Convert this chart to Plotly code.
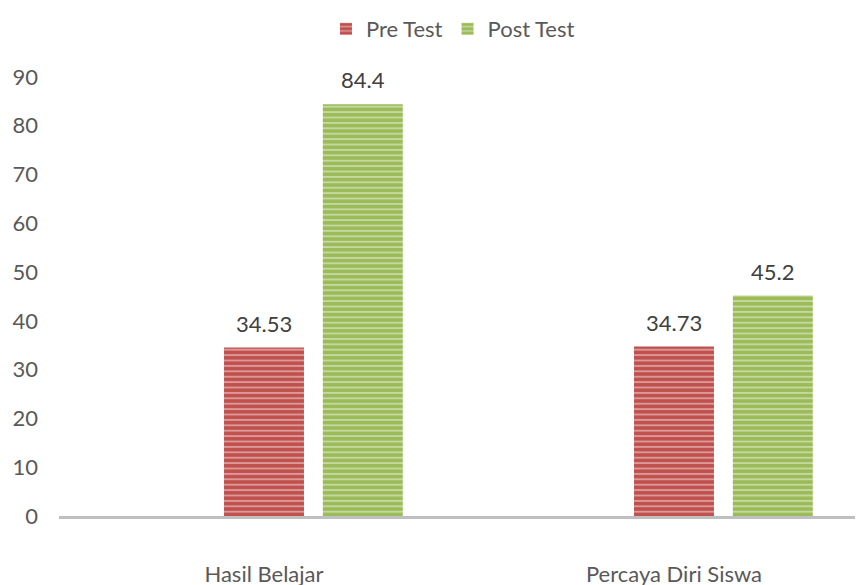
import plotly.graph_objects as go

categories = ["Hasil Belajar", "Percaya Diri Siswa"]
pre_test = [34.53, 34.73]
post_test = [84.4, 45.2]
y_ticks = [0, 10, 20, 30, 40, 50, 60, 70, 80, 90]

RED = "#c0504d"
GREEN = "#9bbb59"
FONT = "Lato"
TXT = "#595959"
FS = 22

x_idx = list(range(len(categories)))
bar_w = 0.195
gap = 0.046

fig = go.Figure()
fig.add_trace(go.Bar(
    name="Pre Test", x=x_idx, y=pre_test, width=bar_w, offset=-bar_w / 2,
    marker=dict(color=RED, line=dict(width=0),
                pattern=dict(shape="-", fgcolor="rgba(255,255,255,0.85)", bgcolor=RED,
                             size=5.4, solidity=0.35, fillmode="overlay")),
))
fig.add_trace(go.Bar(
    name="Post Test", x=x_idx, y=post_test, width=bar_w, offset=bar_w / 2 + gap,
    marker=dict(color=GREEN, line=dict(width=0),
                pattern=dict(shape="-", fgcolor="rgba(255,255,255,0.85)", bgcolor=GREEN,
                             size=5.4, solidity=0.35, fillmode="overlay")),
))

for vals, off in ((pre_test, 0.0), (post_test, bar_w + gap)):
    for i, v in enumerate(vals):
        fig.add_annotation(x=i + off, y=v, text=f"{v:g}", showarrow=False,
                           yanchor="bottom", yshift=9,
                           font=dict(family=FONT, size=FS, color="#404040"))

fig.update_layout(
    width=855, height=577,
    margin=dict(l=51, r=0, t=69, b=69, autoexpand=False),
    paper_bgcolor="white", plot_bgcolor="white",
    barmode="overlay",
    showlegend=True,
    legend=dict(orientation="h", x=0.49, xanchor="center", y=1.0, yanchor="top",
                yref="container", font=dict(family=FONT, size=FS, color=TXT),
                traceorder="normal", itemwidth=30),
    font=dict(family=FONT, size=FS, color=TXT),
)
fig.update_xaxes(
    tickmode="array", tickvals=x_idx, ticktext=categories, automargin=False,
    range=[-0.5, 1.461], showline=True, linecolor="#bfbfbf", linewidth=3,
    ticks="", showgrid=False, zeroline=False, ticklabelstandoff=37,
    tickfont=dict(family=FONT, size=FS, color=TXT),
)
fig.update_yaxes(
    range=[0, 90], tickvals=y_ticks, showgrid=False, zeroline=False, showline=False,
    automargin=False, ticklabelstandoff=20,
    tickfont=dict(family=FONT, size=FS, color=TXT),
)

fig.write_html("out.html")
